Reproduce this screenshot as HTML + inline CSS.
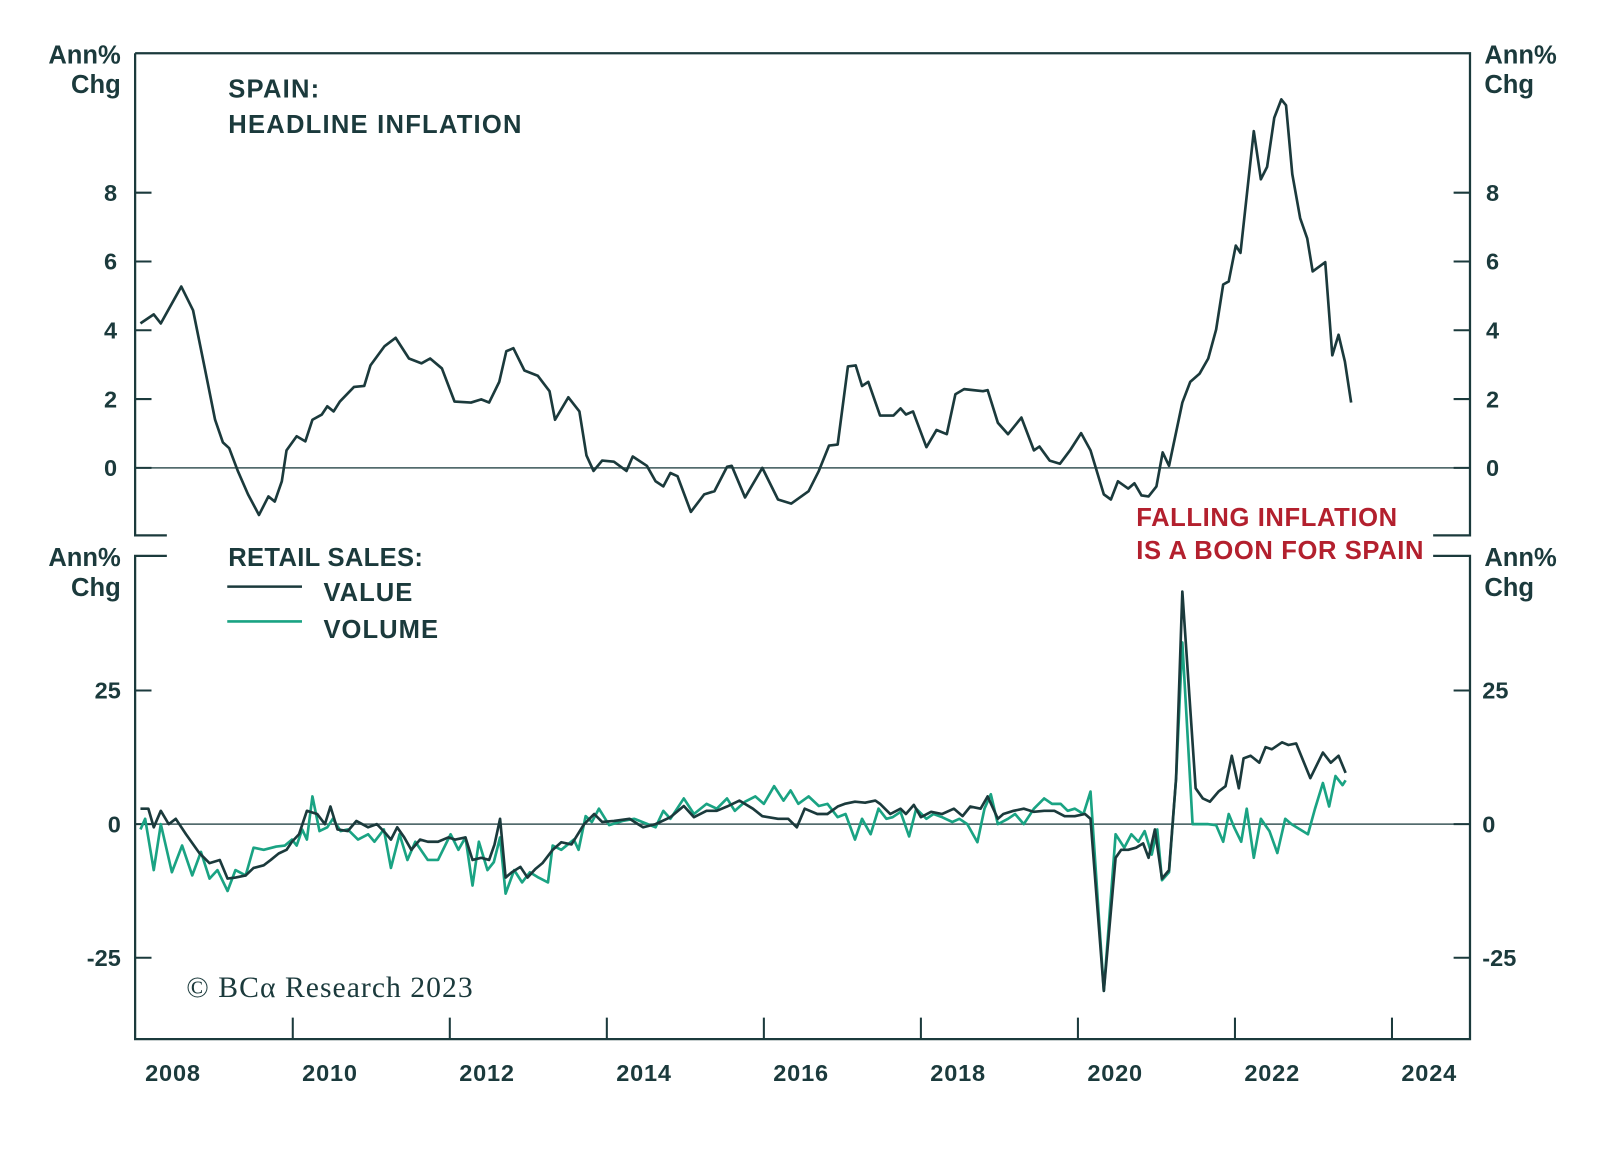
<!DOCTYPE html>
<html><head><meta charset="utf-8"><style>
html,body{margin:0;padding:0;background:#fff;}
svg{display:block;}
text{font-family:"Liberation Sans",sans-serif;}
</style></head><body>
<svg id="chart" width="1600" height="1163" viewBox="0 0 1563 1136" preserveAspectRatio="none" xmlns="http://www.w3.org/2000/svg">
<g id="frame" stroke="#1b3a3c" stroke-width="2.2" fill="none">
<path d="M132,52 H1436 V523 H1400 M163,523 H132 V52"/>
<path d="M163,543 H132 V1015 H1436 V543 H1400"/>
</g>
<g id="labels" fill="#1b3a3c" font-weight="bold">
<text x="118" y="62" font-size="25" text-anchor="end">Ann%</text>
<text x="118" y="91" font-size="25" text-anchor="end">Chg</text>
<text x="1450" y="62" font-size="25">Ann%</text>
<text x="1450" y="91" font-size="25">Chg</text>
<text x="118" y="553" font-size="25" text-anchor="end">Ann%</text>
<text x="118" y="582" font-size="25" text-anchor="end">Chg</text>
<text x="1450" y="553" font-size="25">Ann%</text>
<text x="1450" y="582" font-size="25">Chg</text>
<text x="223" y="95" font-size="25" letter-spacing="1.2">SPAIN:</text>
<text x="223" y="130" font-size="25" letter-spacing="1.2">HEADLINE INFLATION</text>
<text x="223" y="553" font-size="25" letter-spacing="0.3">RETAIL SALES:</text>
<text x="316" y="587" font-size="25" letter-spacing="1">VALUE</text>
<text x="316" y="623" font-size="25" letter-spacing="1">VOLUME</text>
<text x="1110" y="514" font-size="25" letter-spacing="0.6" fill="#b3202e">FALLING INFLATION</text>
<text x="1110" y="546" font-size="25" letter-spacing="0.6" fill="#b3202e">IS A BOON FOR SPAIN</text>
<text x="182" y="974" font-size="29" letter-spacing="1" font-weight="normal" style="font-family:'Liberation Serif',serif">© BCα Research 2023</text>
</g>
<line x1="222" y1="573" x2="295" y2="573" stroke="#1b3a3c" stroke-width="2.5"/>
<line x1="222" y1="607" x2="295" y2="607" stroke="#1aa383" stroke-width="2.5"/>
<g id="axes"></g>
<g id="series"></g>
</svg>
<script>
// Years since 2008 (decimal) and values
const inflDates=[0.06,0.23,0.32,0.58,0.73,0.88,1.01,1.11,1.19,1.30,1.43,1.57,1.69,1.77,1.86,1.92,2.05,2.16,2.25,2.37,2.44,2.52,2.60,2.78,2.91,2.99,3.17,3.31,3.48,3.64,3.75,3.90,4.06,4.27,4.40,4.50,4.63,4.72,4.81,4.95,5.12,5.27,5.34,5.51,5.65,5.74,5.83,5.94,6.09,6.25,6.33,6.51,6.62,6.72,6.81,6.90,7.07,7.24,7.37,7.53,7.59,7.76,7.98,8.18,8.35,8.57,8.70,8.83,8.94,9.07,9.17,9.25,9.33,9.48,9.65,9.74,9.81,9.90,10.07,10.20,10.33,10.44,10.55,10.79,10.85,10.98,11.11,11.28,11.44,11.51,11.64,11.77,11.90,12.04,12.16,12.33,12.42,12.51,12.64,12.72,12.81,12.90,13.00,13.08,13.16,13.33,13.43,13.55,13.66,13.76,13.85,13.92,14.01,14.07,14.24,14.33,14.41,14.50,14.59,14.65,14.73,14.83,14.92,14.99,15.15,15.24,15.32,15.40,15.48];
const inflValues=[4.20,4.46,4.20,5.27,4.58,2.89,1.40,0.74,0.57,-0.09,-0.77,-1.37,-0.83,-0.98,-0.39,0.51,0.92,0.77,1.40,1.55,1.79,1.64,1.93,2.35,2.38,2.98,3.54,3.78,3.18,3.04,3.18,2.89,1.93,1.90,1.99,1.90,2.50,3.39,3.48,2.83,2.68,2.23,1.40,2.05,1.64,0.36,-0.09,0.21,0.18,-0.09,0.33,0.06,-0.39,-0.54,-0.15,-0.24,-1.28,-0.77,-0.68,0.03,0.06,-0.86,0.00,-0.92,-1.04,-0.68,-0.09,0.65,0.68,2.95,2.98,2.38,2.50,1.52,1.52,1.73,1.55,1.64,0.60,1.10,0.98,2.14,2.29,2.23,2.26,1.31,0.98,1.46,0.51,0.62,0.21,0.12,0.51,1.01,0.51,-0.77,-0.92,-0.39,-0.60,-0.45,-0.80,-0.83,-0.54,0.45,0.06,1.90,2.50,2.74,3.18,4.02,5.33,5.42,6.46,6.25,9.79,8.39,8.75,10.18,10.71,10.54,8.54,7.26,6.67,5.71,5.98,3.27,3.87,3.09,1.90];
const valueDates=[0.06,0.16,0.23,0.32,0.42,0.51,0.64,0.81,0.94,1.07,1.17,1.27,1.40,1.50,1.63,1.72,1.82,1.92,1.99,2.08,2.18,2.31,2.41,2.48,2.57,2.70,2.81,2.96,3.07,3.17,3.25,3.33,3.42,3.51,3.62,3.72,3.85,3.98,4.07,4.20,4.29,4.40,4.50,4.57,4.64,4.71,4.79,4.90,4.99,5.09,5.18,5.31,5.42,5.55,5.71,5.84,5.94,6.09,6.29,6.46,6.62,6.81,6.98,7.11,7.27,7.40,7.53,7.69,7.86,7.98,8.18,8.31,8.42,8.52,8.68,8.81,8.94,9.03,9.16,9.29,9.42,9.48,9.61,9.74,9.81,9.91,10.00,10.13,10.27,10.42,10.53,10.63,10.76,10.85,10.98,11.05,11.18,11.31,11.44,11.57,11.70,11.83,11.96,12.09,12.16,12.33,12.48,12.55,12.64,12.74,12.83,12.90,12.98,13.07,13.16,13.25,13.33,13.50,13.59,13.68,13.79,13.88,13.96,14.05,14.11,14.20,14.31,14.39,14.47,14.60,14.68,14.78,14.96,15.12,15.22,15.32,15.41];
const valueValues=[2.9,2.9,-0.6,2.5,0,1.0,-1.9,-5.4,-7.3,-6.7,-10.2,-10.0,-9.6,-8.2,-7.7,-6.7,-5.5,-4.8,-3.3,-1.9,2.5,1.9,0,3.3,-1.0,-1.3,0.6,-0.6,0,-1.5,-2.9,-0.6,-2.5,-4.8,-2.9,-3.3,-3.3,-2.5,-2.9,-2.5,-6.7,-6.3,-6.7,-3.8,1.0,-10.0,-9.0,-8.0,-10.0,-8.4,-7.3,-4.8,-3.4,-3.8,0,1.9,0.4,0.6,1.0,-0.6,0,1.3,3.4,1.3,2.5,2.5,3.3,4.4,2.9,1.5,1.0,1.0,-0.6,2.9,1.9,1.9,3.3,3.8,4.2,4.0,4.4,3.8,1.9,2.9,1.9,3.6,1.3,2.3,1.9,2.9,1.5,3.3,2.9,5.2,1.0,1.9,2.5,2.9,2.3,2.5,2.5,1.5,1.5,1.9,1.0,-31.2,-6.3,-4.8,-4.8,-4.4,-3.6,-6.3,-1.0,-10.2,-8.6,8.6,43.5,6.7,4.8,4.2,6.1,7.1,12.8,6.7,12.3,12.8,11.5,14.4,14.0,15.3,14.8,15.1,8.6,13.4,11.5,12.8,9.6];
const volumeDates=[0.06,0.12,0.23,0.32,0.46,0.59,0.72,0.83,0.94,1.04,1.17,1.27,1.40,1.50,1.63,1.79,1.90,1.99,2.05,2.12,2.18,2.25,2.34,2.44,2.51,2.61,2.70,2.83,2.96,3.04,3.16,3.25,3.36,3.46,3.56,3.72,3.85,4.01,4.11,4.20,4.29,4.37,4.48,4.56,4.64,4.71,4.82,4.92,5.02,5.13,5.25,5.31,5.42,5.58,5.64,5.73,5.81,5.90,6.03,6.20,6.35,6.52,6.62,6.72,6.81,6.98,7.11,7.27,7.40,7.53,7.63,7.76,7.89,8.00,8.13,8.25,8.34,8.44,8.57,8.70,8.81,8.94,9.04,9.16,9.25,9.36,9.46,9.56,9.64,9.74,9.85,9.94,10.07,10.16,10.27,10.40,10.49,10.59,10.72,10.81,10.89,10.98,11.11,11.20,11.31,11.44,11.57,11.67,11.78,11.87,11.96,12.07,12.16,12.33,12.48,12.59,12.68,12.77,12.85,12.94,13.01,13.07,13.16,13.25,13.33,13.46,13.66,13.76,13.85,13.92,13.99,14.08,14.15,14.24,14.33,14.44,14.54,14.64,14.72,14.83,14.93,15.02,15.12,15.20,15.28,15.37,15.41];
const volumeValues=[-1.0,1.0,-8.6,0,-9.0,-4.0,-9.6,-5.2,-10.2,-8.6,-12.5,-8.6,-9.6,-4.4,-4.8,-4.2,-4.0,-2.9,-4.0,-1.0,-2.9,5.2,-1.3,-0.6,1.0,-1.3,-1.0,-2.9,-1.9,-3.3,-1.0,-8.2,-1.9,-6.7,-3.3,-6.7,-6.7,-1.9,-4.8,-2.5,-11.5,-3.3,-8.6,-7.1,-2.5,-13.0,-8.6,-10.9,-9.0,-10.0,-10.9,-4.0,-4.8,-2.9,-4.8,1.5,0.4,2.9,-0.2,0.6,1.0,0,-0.6,2.5,1.0,4.8,1.9,3.8,2.9,4.8,2.5,4.2,5.2,3.8,7.1,4.4,6.3,3.8,5.2,3.4,3.8,1.3,1.9,-2.9,1.0,-1.9,2.9,1.0,1.3,2.3,-2.3,2.9,1.0,1.9,1.3,0.4,1.0,0,-3.4,2.9,5.6,0,1.0,1.9,0,2.9,4.8,3.8,3.8,2.5,2.9,1.9,6.1,-31.2,-1.9,-4.4,-1.9,-3.3,-1.3,-5.7,-1.0,-10.5,-9.0,8.6,34.0,0,0,-0.2,-3.3,1.9,-0.6,-3.3,2.9,-6.3,1.0,-1.3,-5.4,1.0,0,-1.0,-1.9,2.9,7.7,3.3,9.0,7.3,8.2];
const topTicks=[0,2,4,6,8];
const bottomTicks=[-25,0,25];
const yearLabels=[2008,2010,2012,2014,2016,2018,2020,2022,2024];

const X0=132.6, PX_PER_YEAR=76.7;
function xScale(t){return X0+PX_PER_YEAR*t;}
function yTop(v){return 457-33.6*v;}
function yBot(v){return 805-5.22*v;}
const NS='http://www.w3.org/2000/svg';
const axes=document.getElementById('axes');
const series=document.getElementById('series');
function mk(tag,attrs,parent){const e=document.createElementNS(NS,tag);for(const k in attrs)e.setAttribute(k,attrs[k]);parent.appendChild(e);return e;}
const DARK='#1b3a3c';
let z1=mk('line',{x1:132,x2:1436,y1:yTop(0),y2:yTop(0),stroke:'#3a5658','stroke-width':1.4},axes);


let z2=mk('line',{x1:132,x2:1436,y1:yBot(0),y2:yBot(0),stroke:'#3a5658','stroke-width':1.4},axes);


topTicks.forEach(v=>{
  const y=yTop(v);
  let a=mk('line',{x1:132,x2:148,y1:y,y2:y,stroke:DARK,'stroke-width':2},axes);
  
  
  let b=mk('line',{x1:1420,x2:1436,y1:y,y2:y,stroke:DARK,'stroke-width':2},axes);
  
  
  let l=mk('text',{x:108,y:y+8,'font-size':23,'font-weight':'bold',fill:DARK,'text-anchor':'middle'},axes);l.textContent=v;
  
  
  let r=mk('text',{x:1458,y:y+8,'font-size':23,'font-weight':'bold',fill:DARK,'text-anchor':'middle'},axes);r.textContent=v;
  
  
});
bottomTicks.forEach(v=>{
  const y=yBot(v);
  let a=mk('line',{x1:132,x2:148,y1:y,y2:y,stroke:DARK,'stroke-width':2},axes);
  
  
  let b=mk('line',{x1:1420,x2:1436,y1:y,y2:y,stroke:DARK,'stroke-width':2},axes);
  
  
  let l=mk('text',{x:118,y:y+8,'font-size':23,'font-weight':'bold',fill:DARK,'text-anchor':'end'},axes);l.textContent=v;
  
  
  let r=mk('text',{x:1448,y:y+8,'font-size':23,'font-weight':'bold',fill:DARK},axes);r.textContent=v;
  
  
});
yearLabels.forEach(yr=>{
  const t=yr-2008;
  if(t>0){
    let tk=mk('line',{x1:xScale(t),x2:xScale(t),y1:1015,y2:994,stroke:DARK,'stroke-width':2},axes);
    
    
  }
  let l=mk('text',{x:xScale(t+0.5)-2,y:1056,'font-size':23,'font-weight':'bold','letter-spacing':0.8,fill:DARK,'text-anchor':'middle'},axes);l.textContent=yr;
  
  
});
function line(dates,vals,ys,color,name){
  const d=dates.map((t,i)=>(i?'L':'M')+xScale(t).toFixed(1)+','+ys(vals[i]).toFixed(1)).join(' ');
  const p=mk('path',{d:d,fill:'none',stroke:color,'stroke-width':2.6,'stroke-linejoin':'round'},series);
  
  
}
line(volumeDates,volumeValues,yBot,'#1aa383','retail-volume-line');
line(valueDates,valueValues,yBot,DARK,'retail-value-line');
line(inflDates,inflValues,yTop,DARK,'headline-inflation-line');
</script>
</body></html>
